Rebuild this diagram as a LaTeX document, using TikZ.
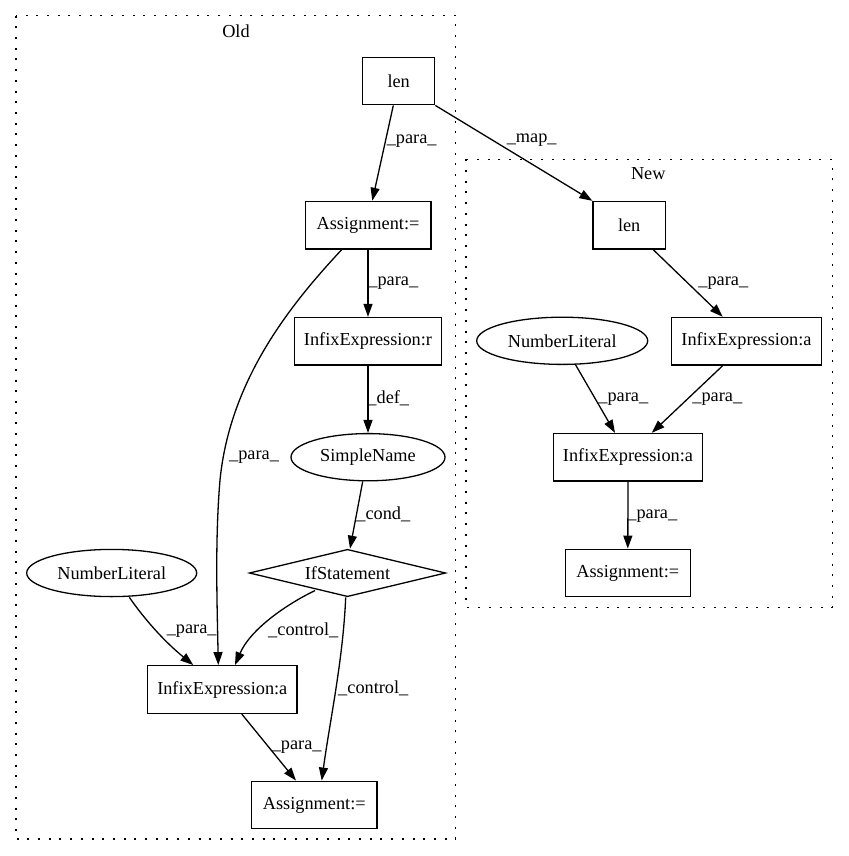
\documentclass[tikz,border=0pt]{standalone}
\usepackage{fontspec}
\setmainfont{Liberation Serif}
\usetikzlibrary{shapes.geometric,arrows.meta}
\begin{document}
\begin{tikzpicture}[x=1pt,y=-1pt,
  every node/.style={font=\fontsize{18.3}{22}\selectfont},
  boxnode/.style={draw,rectangle,line width=1.3pt,minimum height=47.6pt,inner sep=0pt},
  ellnode/.style={draw,ellipse,line width=1.3pt,minimum height=47.2pt,inner sep=0pt},
  dianode/.style={draw,diamond,aspect=4,line width=1.3pt,minimum width=196.4pt,minimum height=47.4pt,inner sep=0pt},
  lbl/.style={inner sep=0pt},
  edge/.style={line width=1.3pt,-{Triangle[length=13pt,width=9pt]}},
  cluster/.style={line width=1.3pt,dash pattern=on 2pt off 8.7pt}]
\useasboundingbox (0,0) rectangle (848,856);
% clusters
\draw[cluster] (16,15.7) rectangle (455.7,839);
\node[lbl] (oldlbl) at (236,31) {Old};
\draw[cluster] (466,159.3) rectangle (832.3,607.3);
\node[lbl] (newlbl) at (648.3,174) {New};
% old nodes
\node[boxnode,minimum width=72pt] (lenold) at (398.7,81) {len};
\node[boxnode,minimum width=125.7pt] (asg1) at (368,225.2) {Assignment:=};
\node[boxnode,minimum width=147.4pt] (infr) at (368,341.3) {InfixExpression:r};
\node[ellnode,minimum width=154pt] (sname) at (368,457.2) {SimpleName};
\node[dianode] (ifst) at (347.5,573) {IfStatement};
\node[ellnode,minimum width=170pt] (numold) at (111.7,573) {NumberLiteral};
\node[boxnode,minimum width=149.3pt] (infaold) at (222.3,689.5) {InfixExpression:a};
\node[boxnode,minimum width=125.3pt] (asg2) at (314.3,805) {Assignment:=};
% new nodes
\node[boxnode,minimum width=72.3pt] (lennew) at (629.2,225.3) {len};
\node[boxnode,minimum width=149.6pt] (infaup) at (746.5,341.2) {InfixExpression:a};
\node[ellnode,minimum width=171pt] (numnew) at (562.2,340.8) {NumberLiteral};
\node[boxnode,minimum width=149.4pt] (infalow) at (628,457.3) {InfixExpression:a};
\node[boxnode,minimum width=125pt] (asgnew) at (627.8,573) {Assignment:=};
% old edges
\draw[edge] ([xshift=-5.4pt]lenold.south) -- ([xshift=4.3pt]asg1.north);
\node[lbl] at (411.7,140.7) {\_para\_};
\draw[edge] (lenold.south east) -- (lennew.north west);
\node[lbl] at (531.7,140) {\_map\_};
\draw[edge] (asg1.south) -- (infr.north);
\node[lbl] at (393.3,283.3) {\_para\_};
\draw[edge] ([xshift=-26.3pt]asg1.south) .. controls (290,305) and (230,380) .. (220,480) .. controls (215,540) and (217,600) .. ([xshift=-4pt]infaold.north);
\node[lbl] at (254,456.7) {\_para\_};
\draw[edge] (infr.south) -- (sname.north);
\node[lbl] at (388.3,398.3) {\_def\_};
\draw[edge] ([xshift=-5.3pt]sname.south) -- ([xshift=2.5pt]ifst.north);
\node[lbl] at (383.3,514.3) {\_cond\_};
\draw[edge] ([xshift=17.6pt]numold.south) .. controls (145,620) and (165,642) .. ([xshift=-29pt]infaold.north);
\node[lbl] at (191.7,630.7) {\_para\_};
\draw[edge] ([xshift=-32.5pt,yshift=6.8pt]ifst.south) .. controls (285,605) and (250,630) .. ([xshift=12.7pt]infaold.north);
\node[lbl] at (303.3,630.7) {\_control\_};
\draw[edge] ([xshift=-1.8pt]ifst.south) .. controls (343,660) and (330,720) .. ([xshift=7.4pt]asg2.north);
\node[lbl] at (373.3,688.3) {\_control\_};
\draw[edge] ([xshift=19.4pt]infaold.south) -- ([xshift=-18.3pt]asg2.north);
\node[lbl] at (296.7,747.3) {\_para\_};
% new edges
\draw[edge] ([xshift=24.1pt]lennew.south) -- ([xshift=-23.8pt]infaup.north);
\node[lbl] at (723.3,283.3) {\_para\_};
\draw[edge] ([xshift=13.5pt]numnew.south) -- ([xshift=-13pt]infalow.north);
\node[lbl] at (623.3,399.3) {\_para\_};
\draw[edge] ([xshift=-23.8pt]infaup.south) -- ([xshift=23.7pt]infalow.north);
\node[lbl] at (717.3,399.3) {\_para\_};
\draw[edge] (infalow.south) -- (asgnew.north);
\node[lbl] at (652.3,515.7) {\_para\_};
\end{tikzpicture}
\end{document}
